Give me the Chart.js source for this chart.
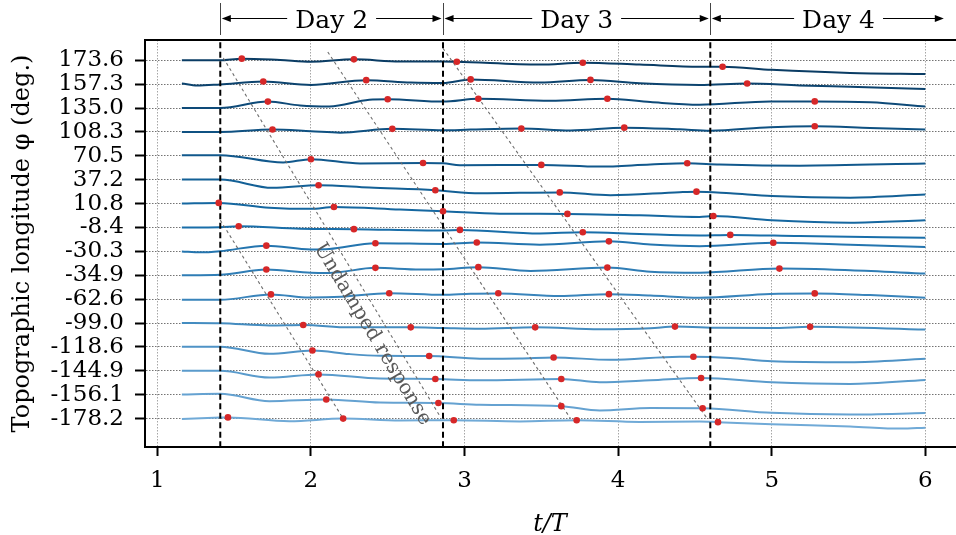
<!DOCTYPE html>
<html><head><meta charset="utf-8">
<script src="https://cdn.jsdelivr.net/npm/chart.js@4.4.1/dist/chart.umd.min.js"></script>
<style>html,body{margin:0;padding:0;background:#fff;}</style>
</head><body>
<canvas id="c" width="956" height="535"></canvas>
<script>
// ---------- data ----------
const rowLabels = ['173.6','157.3','135.0','108.3','70.5','37.2','10.8','-8.4','-30.3','-34.9','-62.6','-99.0','-118.6','-144.9','-156.1','-178.2'];
const xTicks = [1, 2, 3, 4, 5, 6];
const dayNames = ['Day 2', 'Day 3', 'Day 4'];
const dayBounds = [1.41, 2.86, 4.60, 6.27];
const dayArrowTips = [[1.42, 2.85], [2.87, 4.59], [4.61, 6.12]];
const undampedLines = [
  [[1.43, 15.1], [2.84, 0.1]],
  [[1.41, 8.31], [2.21, 0.0]],
  [[2.11, 15.35], [3.69, 0.0]],
  [[2.86, 15.5], [4.58, 0.0]]
];
const undampedLabel = 'Undamped response';
const undampedLabelPos = [2.40, 3.53];

// curves: [t/T, deviation from the row baseline (row units)]
const row0Line = [[1.16,0],[1.41,0],[1.55,0.07],[1.80,0.01],[2.0,-0.06],[2.28,0.04],[2.58,-0.05],[2.86,-0.05],[2.95,-0.06],[3.49,-0.18],[3.77,-0.10],[4.14,-0.18],[4.53,-0.27],[4.68,-0.27],[5.0,-0.4],[5.51,-0.53],[6.0,-0.57]];
const row1Line = [[1.16,0.03],[1.26,-0.06],[1.41,-0.01],[1.69,0.11],[2.0,-0.03],[2.36,0.17],[2.65,0.07],[2.86,0.05],[3.04,0.20],[3.49,0.07],[3.82,0.18],[4.14,0.04],[4.53,-0.03],[4.84,0.03],[5.18,-0.05],[5.51,-0.11],[6.0,-0.2]];
const row2Line = [[1.16,0],[1.41,0],[1.72,0.27],[1.93,0.11],[2.12,0.07],[2.38,0.35],[2.50,0.37],[2.86,0.27],[3.09,0.39],[3.56,0.31],[3.93,0.39],[4.21,0.25],[4.53,0.14],[4.99,0.28],[5.28,0.28],[5.64,0.24],[6.0,0.07]];
const row3Line = [[1.16,0],[1.41,0],[1.75,0.10],[2.0,0.03],[2.19,-0.03],[2.53,0.13],[2.86,0.07],[3.04,0.10],[3.37,0.14],[3.69,0.06],[4.04,0.18],[4.40,0.11],[4.60,0.05],[4.99,0.2],[5.28,0.24],[5.64,0.17],[6.0,0.10]];
const row4Line = [[1.16,0.03],[1.41,0.03],[1.82,-0.28],[2.0,-0.14],[2.32,-0.32],[2.73,-0.30],[2.86,-0.31],[2.97,-0.39],[3.50,-0.38],[3.88,-0.45],[4.21,-0.36],[4.45,-0.31],[4.66,-0.36],[5.18,-0.41],[6.0,-0.32]];
const row5Line = [[1.16,0.01],[1.41,0.01],[1.75,-0.34],[2.05,-0.23],[2.38,-0.33],[2.81,-0.44],[3.10,-0.57],[3.62,-0.53],[3.95,-0.65],[4.40,-0.52],[4.51,-0.50],[4.73,-0.57],[5.0,-0.68],[5.51,-0.75],[6.0,-0.62]];
const row6Line = [[1.16,0],[1.40,0.03],[1.73,-0.17],[2.0,-0.22],[2.15,-0.14],[2.58,-0.25],[2.86,-0.32],[3.23,-0.42],[3.67,-0.43],[4.14,-0.49],[4.53,-0.56],[4.62,-0.52],[5.0,-0.7],[5.51,-0.8],[6.0,-0.7]];
const row7Line = [[1.16,0],[1.41,0.01],[1.53,0.05],[1.93,-0.05],[2.28,-0.07],[2.86,-0.13],[2.97,-0.10],[3.49,-0.25],[3.77,-0.20],[4.14,-0.27],[4.53,-0.33],[4.73,-0.31],[5.18,-0.36],[6.0,-0.43]];
const row8Line = [[1.16,0],[1.28,-0.04],[1.41,0.01],[1.71,0.24],[2.0,0.08],[2.12,0.10],[2.42,0.34],[2.86,0.31],[3.08,0.37],[3.49,0.28],[3.94,0.42],[4.21,0.29],[4.53,0.22],[5.01,0.36],[5.51,0.28],[6.0,0.18]];
const row9Line = [[1.16,0],[1.41,0.02],[1.71,0.24],[2.0,0.11],[2.12,0.10],[2.42,0.31],[2.71,0.24],[2.86,0.25],[3.09,0.34],[3.43,0.18],[3.93,0.32],[4.21,0.15],[4.53,0.11],[5.05,0.28],[5.51,0.21],[6.0,0.07]];
const row10Line = [[1.16,-0.03],[1.41,-0.03],[1.74,0.20],[1.99,0.07],[2.20,0.10],[2.51,0.25],[2.86,0.18],[3.04,0.23],[3.22,0.24],[3.62,0.13],[3.94,0.21],[4.21,0.15],[4.53,0.06],[4.99,0.22],[5.28,0.24],[5.64,0.17],[6.0,0.06]];
const row11Line = [[1.16,0],[1.41,-0.01],[1.73,-0.10],[1.95,-0.08],[2.25,-0.18],[2.65,-0.18],[2.86,-0.21],[3.10,-0.24],[3.46,-0.18],[3.88,-0.26],[4.21,-0.22],[4.37,-0.15],[4.66,-0.20],[5.0,-0.21],[5.25,-0.16],[6.0,-0.27]];
const row12Line = [[1.16,0.01],[1.41,0.01],[1.73,-0.29],[2.01,-0.15],[2.25,-0.30],[2.45,-0.37],[2.77,-0.38],[3.10,-0.49],[3.36,-0.48],[3.58,-0.44],[3.95,-0.54],[4.40,-0.41],[4.49,-0.41],[4.73,-0.46],[5.0,-0.6],[5.51,-0.64],[6.0,-0.5]];
const row13Line = [[1.16,0],[1.41,0],[1.73,-0.28],[2.05,-0.15],[2.45,-0.32],[2.81,-0.34],[3.10,-0.40],[3.63,-0.34],[3.88,-0.48],[4.21,-0.40],[4.54,-0.30],[5.0,-0.48],[5.51,-0.55],[6.0,-0.38]];
const row14Line = [[1.16,0.01],[1.41,0.04],[1.73,-0.27],[2.10,-0.20],[2.45,-0.33],[2.83,-0.35],[3.10,-0.42],[3.63,-0.48],[3.88,-0.66],[4.21,-0.56],[4.55,-0.57],[5.0,-0.76],[5.51,-0.83],[6.0,-0.77]];
const row15Line = [[1.16,-0.02],[1.41,0.04],[1.46,0.05],[1.86,-0.11],[2.21,0],[2.58,-0.08],[2.93,-0.07],[3.36,-0.12],[3.73,-0.07],[4.14,-0.14],[4.53,-0.12],[4.65,-0.15],[5.0,-0.24],[5.51,-0.33],[5.84,-0.42],[6.0,-0.38]];

// red markers: [t/T, deviation from row baseline]
const row0Dots = [[1.55,0.07],[2.28,0.04],[2.95,-0.06],[3.77,-0.10],[4.68,-0.27]];
const row1Dots = [[1.69,0.11],[2.36,0.17],[3.04,0.20],[3.82,0.18],[4.84,0.03]];
const row2Dots = [[1.72,0.27],[2.50,0.37],[3.09,0.39],[3.93,0.39],[5.28,0.28]];
const row3Dots = [[1.75,0.10],[2.53,0.13],[3.37,0.14],[4.04,0.18],[5.28,0.24]];
const row4Dots = [[2.00,-0.14],[2.73,-0.30],[3.50,-0.38],[4.45,-0.31]];
const row5Dots = [[2.05,-0.23],[2.81,-0.44],[3.62,-0.53],[4.51,-0.50]];
const row6Dots = [[1.40,0.03],[2.15,-0.14],[2.86,-0.32],[3.67,-0.43],[4.62,-0.52]];
const row7Dots = [[1.53,0.05],[2.28,-0.07],[2.97,-0.10],[3.77,-0.20],[4.73,-0.31]];
const row8Dots = [[1.71,0.24],[2.42,0.34],[3.08,0.37],[3.94,0.42],[5.01,0.36]];
const row9Dots = [[1.71,0.24],[2.42,0.31],[3.09,0.34],[3.93,0.32],[5.05,0.28]];
const row10Dots = [[1.74,0.20],[2.51,0.25],[3.22,0.25],[3.94,0.21],[5.28,0.24]];
const row11Dots = [[1.95,-0.08],[2.65,-0.18],[3.46,-0.18],[4.37,-0.15],[5.25,-0.16]];
const row12Dots = [[2.01,-0.15],[2.77,-0.38],[3.58,-0.44],[4.49,-0.41]];
const row13Dots = [[2.05,-0.15],[2.81,-0.34],[3.63,-0.34],[4.54,-0.30]];
const row14Dots = [[2.10,-0.20],[2.83,-0.35],[3.63,-0.48],[4.55,-0.57]];
const row15Dots = [[1.46,0.05],[2.21,0],[2.93,-0.07],[3.73,-0.07],[4.65,-0.15]];

const lines = [row0Line,row1Line,row2Line,row3Line,row4Line,row5Line,row6Line,row7Line,row8Line,row9Line,row10Line,row11Line,row12Line,row13Line,row14Line,row15Line];
const dots = [row0Dots,row1Dots,row2Dots,row3Dots,row4Dots,row5Dots,row6Dots,row7Dots,row8Dots,row9Dots,row10Dots,row11Dots,row12Dots,row13Dots,row14Dots,row15Dots];

// ---------- styling ----------
const FONT = '"DejaVu Serif", "Liberation Serif", serif';
const NROW = rowLabels.length;
const TOPV = NROW - 1;
const colorStops = [[0,[10,60,100]],[0.45,[22,108,168]],[1,[112,170,215]]];
function rowColor(i){
  const t = i/(NROW-1);
  let a = colorStops[0], b = colorStops[colorStops.length-1];
  for (let k=0;k<colorStops.length-1;k++){ if (t>=colorStops[k][0] && t<=colorStops[k+1][0]){a=colorStops[k];b=colorStops[k+1];break;} }
  const u = (t-a[0])/(b[0]-a[0]||1);
  const c = a[1].map((v,j)=>Math.round(v+(b[1][j]-v)*u));
  return `rgb(${c[0]},${c[1]},${c[2]})`;
}

const datasets = [];
lines.forEach((arr,i)=>{
  datasets.push({ data: arr.map(([t,d])=>({x:t, y:TOPV-i+d})), borderColor: rowColor(i), borderWidth: 2,
    pointRadius: 0, cubicInterpolationMode: 'monotone', fill: false, order: 3 });
});
dots.forEach((arr,i)=>{
  datasets.push({ data: arr.map(([t,d])=>({x:t, y:TOPV-i+d})), showLine: false, pointRadius: 3.3,
    pointBackgroundColor: '#d62728', pointBorderWidth: 0, borderColor: '#d62728', order: 0 });
});
dayBounds.slice(0,3).forEach(b=>{
  datasets.push({ data: [{x:b,y:-2},{x:b,y:17}], borderColor:'#000', borderWidth:2, borderDash:[6,3.5],
    pointRadius:0, order:1 });
});
undampedLines.forEach(seg=>{
  datasets.push({ data: seg.map(([t,v])=>({x:t,y:v})), borderColor:'#6e6e6e', borderWidth:1.1, borderDash:[3,3],
    pointRadius:0, order:2 });
});

const decor = {
  id: 'decor',
  afterDatasetsDraw(chart){
    const {ctx, scales:{x,y}} = chart;
    const L = undampedLines[0];
    const dx = x.getPixelForValue(L[1][0]) - x.getPixelForValue(L[0][0]);
    const dy = y.getPixelForValue(L[1][1]) - y.getPixelForValue(L[0][1]);
    ctx.save();
    ctx.translate(x.getPixelForValue(undampedLabelPos[0]), y.getPixelForValue(undampedLabelPos[1]));
    ctx.rotate(Math.atan2(dy,dx));
    ctx.fillStyle = '#5a5a5a';
    ctx.font = '20px ' + FONT;
    ctx.textAlign = 'center'; ctx.textBaseline = 'middle';
    ctx.fillText(undampedLabel, 0, 0);
    ctx.restore();
  },
  afterDraw(chart){
    const {ctx, chartArea:ca, scales:{x}} = chart;
    ctx.save();
    ctx.strokeStyle = '#000'; ctx.lineWidth = 2;
    ctx.beginPath(); ctx.moveTo(ca.left-1, ca.top); ctx.lineTo(chart.width, ca.top); ctx.stroke();
    ctx.strokeStyle = '#444'; ctx.lineWidth = 1;
    dayBounds.slice(0,3).forEach(b=>{
      const px = Math.round(x.getPixelForValue(b))+0.5;
      ctx.beginPath(); ctx.moveTo(px,3); ctx.lineTo(px,35); ctx.stroke();
    });
    const ay = 18.5;
    ctx.font = '25px ' + FONT;
    ctx.textAlign = 'center'; ctx.textBaseline = 'alphabetic';
    const arrow = (from, tip) => {
      const dir = Math.sign(tip-from);
      ctx.strokeStyle = '#000'; ctx.lineWidth = 1;
      ctx.beginPath(); ctx.moveTo(from, ay); ctx.lineTo(tip - dir*6, ay); ctx.stroke();
      ctx.fillStyle = '#000';
      ctx.beginPath(); ctx.moveTo(tip, ay); ctx.lineTo(tip - dir*9, ay-3.5); ctx.lineTo(tip - dir*9, ay+3.5); ctx.closePath(); ctx.fill();
    };
    dayNames.forEach((name,k)=>{
      const c = (x.getPixelForValue(dayBounds[k]) + x.getPixelForValue(dayBounds[k+1]))/2;
      const w = ctx.measureText(name).width;
      ctx.fillStyle = '#000';
      ctx.fillText(name, c, 28);
      arrow(c - w/2 - 8, x.getPixelForValue(dayArrowTips[k][0]));
      arrow(c + w/2 + 8, x.getPixelForValue(dayArrowTips[k][1]));
    });
    ctx.restore();
  }
};

new Chart(document.getElementById('c'), {
  type: 'line',
  data: { datasets },
  plugins: [decor],
  options: {
    responsive: false, animation: false, devicePixelRatio: 1, events: [],
    layout: { autoPadding: false, padding: { top: 40, right: 1, left: 0, bottom: 0 } },
    plugins: { legend: { display: false }, tooltip: { enabled: false } },
    scales: {
      x: {
        type: 'linear', min: 0.92, max: 6.193,
        afterBuildTicks: s => { s.ticks = xTicks.map(v=>({value:v})); },
        afterFit: s => { s.height = 88; },
        ticks: { font: { family: FONT, size: 23 }, color: '#000', padding: 11, maxRotation: 0, autoSkip: false,
          callback: v => String(v) },
        grid: { color: 'rgba(0,0,0,0.35)', lineWidth: 1, drawTicks: true, tickLength: 9, tickWidth: 2,
          tickColor: '#000', tickBorderDash: [] },
        border: { display: true, color: '#000', width: 2, dash: [1.5,1.5] },
        title: { display: true, text: 't/T', color: '#000',
          font: { family: FONT, size: 24, style: 'italic', lineHeight: 0.85 }, padding: { top: 0, bottom: 0 } }
      },
      y: {
        type: 'linear', min: -1.19, max: 15.85,
        afterBuildTicks: s => { s.ticks = rowLabels.map((_,i)=>({value: TOPV - i})); },
        afterFit: s => { s.width = 145; },
        ticks: { font: { family: FONT, size: 23 }, color: '#000', padding: 11, autoSkip: false,
          callback: v => rowLabels[TOPV - Math.round(v)] },
        grid: { color: 'rgba(0,0,0,0.55)', lineWidth: 1, drawTicks: true, tickLength: 10, tickWidth: 2,
          tickColor: '#000', tickBorderDash: [] },
        border: { display: true, color: '#000', width: 2, dash: [1.5,1.5] },
        title: { display: true, text: 'Topographic longitude φ (deg.)', color: '#000',
          font: { family: FONT, size: 24, lineHeight: 1.2 }, padding: { top: 8, bottom: 0 } }
      }
    }
  }
});
</script>
</body></html>
